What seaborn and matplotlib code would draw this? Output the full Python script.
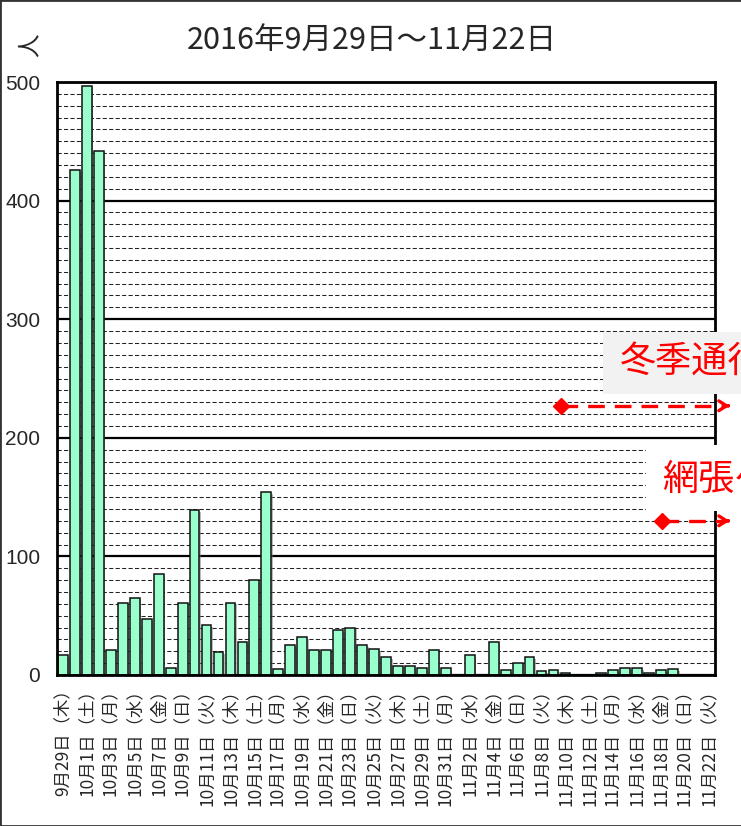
import matplotlib
matplotlib.use("Agg")
import matplotlib.pyplot as plt
import matplotlib.patheffects as pe
from matplotlib.ticker import MultipleLocator
from matplotlib.patches import Rectangle
from matplotlib.lines import Line2D
import seaborn as sns
import pandas as pd

# ---- data -------------------------------------------------------------
start_date = "2016-09-29"
end_date = "2016-11-22"
weekday_names = ["月", "火", "水", "木", "金", "土", "日"]

visitors = [
    17, 426, 497, 442, 21, 61, 65, 47, 85, 6,
    61, 139, 42, 19, 61, 28, 80, 154, 5, 25,
    32, 21, 21, 38, 40, 25, 22, 15, 8, 8,
    6, 21, 6, 0, 17, 0, 28, 4, 10, 15,
    3, 4, 2, 0, 0, 2, 4, 6, 6, 2,
    4, 5, 0, 0, 0,
]

title = "2016年9月29日～11月22日"
y_label = "人"
y_ticks = [0, 100, 200, 300, 400, 500]

note_texts = ["冬季通行止め", "網張ゲート"]
note_levels = [227, 130]      # height of each period arrow
note_starts = [41.6, 50.1]    # day position where each arrow begins

dates = pd.date_range(start_date, end_date, freq="D")
day_labels = [f"{d.month}月{d.day}日（{weekday_names[d.weekday()]}）" for d in dates]
df = pd.DataFrame({"day": day_labels, "visitors": visitors})

# ---- style ------------------------------------------------------------
sns.set_style("white")
plt.rcParams["font.family"] = ["Noto Sans CJK JP", "DejaVu Sans"]

W, H = 741, 826
fig = plt.figure(figsize=(W / 100, H / 100), dpi=100)


def fx(px):
    return px / W


def fy(py):
    return 1 - py / H


ax = fig.add_axes([fx(57), fy(675), fx(715) - fx(57), fy(82) - fy(675)])

sns.barplot(
    data=df, x="day", y="visitors", order=day_labels,
    color="#99FFCC", saturation=1, edgecolor="#111111",
    linewidth=1.1, width=0.82, ax=ax,
)
for bar in ax.patches:
    bar.set_path_effects([
        pe.SimplePatchShadow(offset=(1.2, -1.2), shadow_rgbFace="#777777", alpha=0.5),
        pe.Normal(),
    ])

ax.set_xlim(-0.5, len(day_labels) - 0.5)
ax.set_ylim(0, 500)
ax.set_yticks(y_ticks)
ax.yaxis.set_minor_locator(MultipleLocator(10))
ax.grid(False)
ax.grid(True, which="major", axis="y", color="black", lw=1.6)
ax.grid(True, which="minor", axis="y", color="#222222", lw=0.75, ls=(0, (4, 2.2)))
ax.set_axisbelow(True)

ax.set_xlabel("")
ax.set_ylabel("")
ax.set_xticks(range(0, len(day_labels), 2))
ax.set_xticklabels(day_labels[::2], rotation=90, ha="center", va="top", fontsize=12.5)
ax.tick_params(axis="both", which="both", length=0)
ax.tick_params(axis="x", pad=4)
ax.tick_params(axis="y", pad=12)
for lab in ax.get_yticklabels():
    lab.set_fontfamily(["Liberation Sans", "DejaVu Sans"])
    lab.set_fontsize(15)

for side in ["left", "right", "top", "bottom"]:
    ax.spines[side].set_visible(True)
    ax.spines[side].set_color("black")
    ax.spines[side].set_linewidth(2.0)

# ---- titles -----------------------------------------------------------
fig.text(fx(372), fy(40), title, ha="center", va="center", fontsize=22)
fig.text(fx(30), fy(45), y_label, rotation=90, ha="center", va="center", fontsize=17)

# ---- period notes -----------------------------------------------------
fig.add_artist(Rectangle((fx(603), fy(394)), fx(760) - fx(603), fy(332) - fy(394),
                         transform=fig.transFigure, facecolor="#F2F2F2",
                         edgecolor="none", zorder=3))
fig.add_artist(Rectangle((fx(646), fy(511)), fx(760) - fx(646), fy(445) - fy(511),
                         transform=fig.transFigure, facecolor="white",
                         edgecolor="none", zorder=3))
fig.text(fx(620), fy(363), note_texts[0], color="#FF0000", fontsize=26,
         ha="left", va="center", zorder=4)
fig.text(fx(662), fy(480), note_texts[1], color="#FF0000", fontsize=26,
         ha="left", va="center", zorder=4)

end_x = len(day_labels) + 0.95
for x0, lvl in zip(note_starts, note_levels):
    ax.plot([x0, end_x - 0.5], [lvl, lvl], color="#FF0000", lw=2.4,
            ls=(0, (5, 3)), clip_on=False, zorder=6)
    ax.plot([x0], [lvl], marker="D", ms=8, color="#FF0000", clip_on=False, zorder=6)
    ax.annotate("", xy=(end_x, lvl), xytext=(end_x - 0.6, lvl),
                arrowprops=dict(arrowstyle="->,head_length=0.55,head_width=0.35",
                                color="#FF0000", lw=2.4),
                annotation_clip=False, zorder=6)

# ---- chart area frame -------------------------------------------------
for xs, ys in [([0, 1], [1, 1]), ([0, 0], [0, 1]), ([0, 1], [0, 0])]:
    fig.add_artist(Line2D(xs, ys, transform=fig.transFigure, color="#333333", lw=2))

fig.savefig("out.png", dpi=100)
